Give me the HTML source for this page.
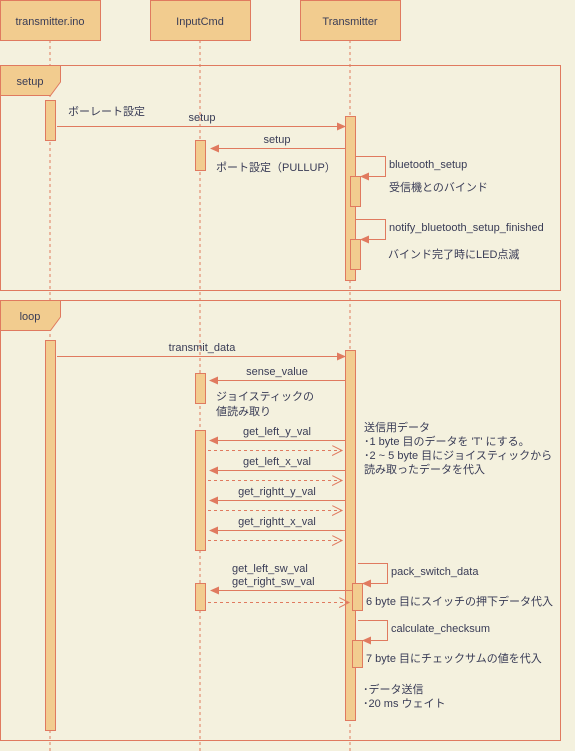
<!DOCTYPE html>
<html><head><meta charset="utf-8"><style>
body{margin:0;background:#F4F1DE;}
svg{display:block}
text{font-family:"Liberation Sans","Noto Sans CJK JP",sans-serif;fill:#393C56;font-size:11px}
</style></head><body>
<svg width="575" height="751" xmlns="http://www.w3.org/2000/svg">
<defs>
<marker id="a" markerWidth="10" markerHeight="10" refX="8" refY="4" orient="auto" markerUnits="userSpaceOnUse"><path d="M0,0 L9,4 L0,8 Z" fill="#E07A5F"/></marker>
<marker id="o" markerWidth="12" markerHeight="12" refX="10" refY="5" orient="auto" markerUnits="userSpaceOnUse"><path d="M0,0 L10,5 L0,10" fill="none" stroke="#E07A5F"/></marker>
</defs>
<rect width="575" height="751" fill="#F4F1DE"/>
<g stroke="#E07A5F" stroke-dasharray="3,3" fill="none">
<line x1="50" y1="40" x2="50" y2="751"/><line x1="200" y1="40" x2="200" y2="751"/><line x1="350" y1="40" x2="350" y2="751"/>
</g>
<g fill="#F2CC8F" stroke="#E07A5F">
<rect x="0.5" y="0.5" width="100" height="40"/><rect x="150.5" y="0.5" width="100" height="40"/><rect x="300.5" y="0.5" width="100" height="40"/>
</g>
<text x="50" y="25" text-anchor="middle" font-size="12">transmitter.ino</text>
<text x="200" y="25" text-anchor="middle" font-size="12">InputCmd</text>
<text x="350" y="25" text-anchor="middle" font-size="12">Transmitter</text>
<g fill="none" stroke="#E07A5F">
<rect x="0.5" y="65.5" width="560" height="225"/><rect x="0.5" y="300.5" width="560" height="440"/>
</g>
<path d="M0.5,65.5 H60.5 V82 L50.5,95.5 H0.5 Z" fill="#F2CC8F" stroke="#E07A5F"/>
<text x="30" y="85" text-anchor="middle" font-size="12">setup</text>
<path d="M0.5,300.5 H60.5 V317 L50.5,330.5 H0.5 Z" fill="#F2CC8F" stroke="#E07A5F"/>
<text x="30" y="320" text-anchor="middle" font-size="12">loop</text>
<g fill="#F2CC8F" stroke="#E07A5F">
<rect x="45.5" y="100.5" width="10" height="40"/>
<rect x="195.5" y="140.5" width="10" height="30"/>
<rect x="345.5" y="116.5" width="10" height="164"/>
<rect x="350.5" y="176.5" width="10" height="30"/>
<rect x="350.5" y="239.5" width="10" height="30"/>
<rect x="45.5" y="340.5" width="10" height="390"/>
<rect x="345.5" y="350.5" width="10" height="370"/>
<rect x="195.5" y="373.5" width="10" height="30"/>
<rect x="195.5" y="430.5" width="10" height="120"/>
<rect x="195.5" y="583.5" width="10" height="27"/>
<rect x="352.5" y="583.5" width="10" height="27"/>
<rect x="352.5" y="640.5" width="10" height="27"/>
</g>
<g stroke="#E07A5F" fill="none">
<line x1="57" y1="126.5" x2="345" y2="126.5" marker-end="url(#a)"/>
<line x1="345" y1="148.5" x2="211" y2="148.5" marker-end="url(#a)"/>
<path d="M355,156.5 H385.5 V176.5 H361" marker-end="url(#a)"/>
<path d="M355,219.5 H385.5 V239.5 H361" marker-end="url(#a)"/>
<line x1="57" y1="356.5" x2="345" y2="356.5" marker-end="url(#a)"/>
<line x1="345" y1="380.5" x2="210" y2="380.5" marker-end="url(#a)"/>
<line x1="345" y1="440.5" x2="210" y2="440.5" marker-end="url(#a)"/>
<line x1="345" y1="470.5" x2="210" y2="470.5" marker-end="url(#a)"/>
<line x1="345" y1="500.5" x2="210" y2="500.5" marker-end="url(#a)"/>
<line x1="345" y1="530.5" x2="210" y2="530.5" marker-end="url(#a)"/>
<line x1="352" y1="590.5" x2="211" y2="590.5" marker-end="url(#a)"/>
<g stroke-dasharray="3,3">
<line x1="208" y1="450.5" x2="342" y2="450.5" marker-end="url(#o)"/>
<line x1="208" y1="480.5" x2="342" y2="480.5" marker-end="url(#o)"/>
<line x1="208" y1="510.5" x2="342" y2="510.5" marker-end="url(#o)"/>
<line x1="208" y1="540.5" x2="342" y2="540.5" marker-end="url(#o)"/>
<line x1="208" y1="602.5" x2="349" y2="602.5" marker-end="url(#o)"/>
</g>
<path d="M358,563.5 H387.5 V583.5 H363" marker-end="url(#a)"/>
<path d="M358,620.5 H387.5 V640.5 H363" marker-end="url(#a)"/>
</g>
<text x="68" y="115">ボーレート設定</text>
<text x="202" y="121" text-anchor="middle">setup</text>
<text x="277" y="143" text-anchor="middle">setup</text>
<text x="216" y="171">ポート設定（PULLUP）</text>
<text x="389" y="168">bluetooth_setup</text>
<text x="389" y="191">受信機とのバインド</text>
<text x="389" y="231">notify_bluetooth_setup_finished</text>
<text x="388" y="258">バインド完了時にLED点滅</text>
<text x="202" y="351" text-anchor="middle">transmit_data</text>
<text x="277" y="375" text-anchor="middle">sense_value</text>
<text x="216" y="400">ジョイスティックの</text>
<text x="216" y="415">値読み取り</text>
<text x="277" y="435" text-anchor="middle">get_left_y_val</text>
<text x="277" y="465" text-anchor="middle">get_left_x_val</text>
<text x="277" y="495" text-anchor="middle">get_rightt_y_val</text>
<text x="277" y="525" text-anchor="middle">get_rightt_x_val</text>
<text x="364" y="431">送信用データ</text>
<text x="364" y="445">･1 byte 目のデータを 'T' にする。</text>
<text x="364" y="459">･2 ~ 5 byte 目にジョイスティックから</text>
<text x="364" y="473">読み取ったデータを代入</text>
<text x="232" y="572">get_left_sw_val</text>
<text x="232" y="585">get_right_sw_val</text>
<text x="391" y="575">pack_switch_data</text>
<text x="366" y="605">6 byte 目にスイッチの押下データ代入</text>
<text x="391" y="632">calculate_checksum</text>
<text x="366" y="662">7 byte 目にチェックサムの値を代入</text>
<text x="363" y="693">･データ送信</text>
<text x="363" y="707">･20 ms ウェイト</text>
</svg>
</body></html>
